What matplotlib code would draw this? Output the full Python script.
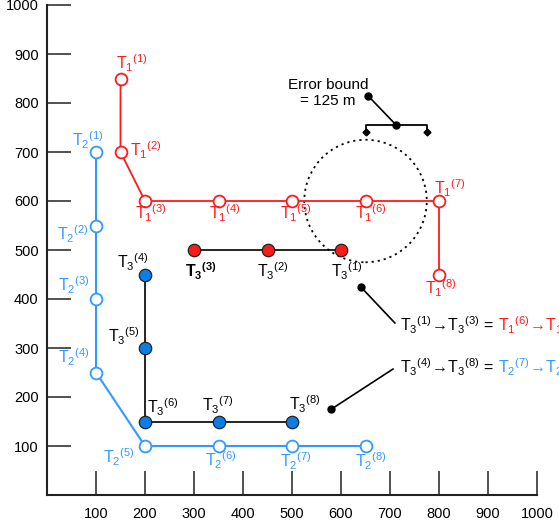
import matplotlib
matplotlib.use("Agg")
import matplotlib.pyplot as plt
from matplotlib.patches import Circle

plt.rcParams['font.family'] = ['Liberation Sans', 'DejaVu Sans']
plt.rcParams['mathtext.fontset'] = 'custom'
plt.rcParams['mathtext.rm'] = 'Liberation Sans'
plt.rcParams['mathtext.it'] = 'Liberation Sans:italic'
plt.rcParams['mathtext.bf'] = 'Liberation Sans:bold'

# Trajectory points
t1_x = [150, 150, 200, 350, 500, 650, 800, 800]
t1_y = [850, 700, 600, 600, 600, 600, 600, 450]
t2_x = [100, 100, 100, 100, 200, 350, 500, 650]
t2_y = [700, 550, 400, 250, 100, 100, 100, 100]
t3_x = [600, 450, 300, 200, 200, 200, 350, 500]
t3_y = [500, 500, 500, 450, 300, 150, 150, 150]

ticks = [100, 200, 300, 400, 500, 600, 700, 800, 900, 1000]

# error bound circle
err_center = (650, 600)
err_radius = 125

RED = '#ff1a1a'
BLUE = '#3399ff'
BLUE_FILL = '#0a7de6'

# label offsets (pixels) for each point
t1_off = [(11, 15), (25, 2), (6, -12), (6, -12), (3.5, -12), (5.5, -12), (11, 13), (2, -14)]
t2_off = [(-8.5, 11.5), (-23, -9), (-22, 14), (-22, 15), (-26, -11), (2, -14.5), (3.5, -15), (5.5, -15)]
t3_off = [(6, -21), (5.5, -21), (6.5, -21), (-12.5, 12), (-21.5, 12), (17.5, 14), (-0.5, 16.5), (12.5, 17.5)]

fig = plt.figure(figsize=(5.59, 5.29), dpi=100)
ax = fig.add_axes([47/559, 34/529, 490/559, 490/529])
ax.set_xlim(0, 1000)
ax.set_ylim(0, 1000)

for s in ['top', 'right']:
    ax.spines[s].set_visible(False)
for s in ['left', 'bottom']:
    ax.spines[s].set_linewidth(1.5)
    ax.spines[s].set_color('#222222')

ax.set_xticks(ticks)
ax.set_yticks(ticks)
ax.tick_params(direction='in', length=17, width=1.1, color='#222222', labelsize=10.5)
ax.tick_params(axis='x', pad=8.5)
ax.tick_params(axis='y', pad=6)

# T1 and T2 lines with open markers
ax.plot(t1_x, t1_y, color=RED, lw=1.3, marker='o', ms=8.5, mfc='white', mec=RED, mew=1.3, zorder=3)
ax.plot(t2_x, t2_y, color=BLUE, lw=1.5, marker='o', ms=8.5, mfc='white', mec=BLUE, mew=1.3, zorder=3)

# T3: two black segments with filled markers
ax.plot(t3_x[:3], t3_y[:3], color='black', lw=1.2, zorder=3)
ax.plot(t3_x[3:], t3_y[3:], color='black', lw=1.2, zorder=3)
ax.scatter(t3_x[:3], t3_y[:3], s=80, c=RED, edgecolors='#222222', linewidths=0.9, zorder=4)
ax.scatter(t3_x[3:], t3_y[3:], s=80, c=BLUE_FILL, edgecolors='#222222', linewidths=0.9, zorder=4)

def label(x, y, txt, off, color):
    ax.annotate(txt, xy=(x, y), xytext=off, textcoords='offset pixels',
                ha='center', va='center', color=color, fontsize=11.5, zorder=5)

for i in range(8):
    label(t1_x[i], t1_y[i], r'$\mathrm{T_1{}^{(%d)}}$' % (i + 1), t1_off[i], RED)
    label(t2_x[i], t2_y[i], r'$\mathrm{T_2{}^{(%d)}}$' % (i + 1), t2_off[i], BLUE)
    if i == 2:
        txt = r'$\mathbf{T_3{}^{(3)}}$'
    else:
        txt = r'$\mathrm{T_3{}^{(%d)}}$' % (i + 1)
    label(t3_x[i], t3_y[i], txt, t3_off[i], 'black')

# error bound circle and bracket
ax.add_patch(Circle(err_center, err_radius, fill=False, ls=(0, (1.2, 2.2)), lw=1.3, color='black', zorder=2))
bx0 = err_center[0]
bx1 = err_center[0] + err_radius
ax.plot([bx0, bx0, bx1, bx1], [740, 755, 755, 740], color='black', lw=1.3)
ax.plot([bx0, bx1], [740, 740], ls='none', marker='D', ms=3.5, color='black')
ax.plot([(bx0 + bx1) / 2, 655], [755, 815], color='black', lw=1.2, marker='o', ms=5)
ax.text(573, 820, 'Error bound\n= 125 m', ha='center', va='center', fontsize=11, linespacing=1.15)

# equivalence callouts
fig.canvas.draw()
renderer = fig.canvas.get_renderer()

def chain(x, y, parts):
    t = ax.text(x, y, parts[0][0], color=parts[0][1], fontsize=11.5, va='baseline', ha='left')
    for s, c, gap in parts[1:]:
        bb = t.get_window_extent(renderer)
        xd = ax.transData.inverted().transform((bb.x1 + gap, 0))[0]
        t = ax.text(xd, y, s, color=c, fontsize=11.5, va='baseline', ha='left')

ax.plot([641, 710], [424, 351], color='black', lw=1.2)
ax.plot([641], [424], marker='o', ms=5, color='black')
chain(720, 335, [(r'$\mathrm{T_3{}^{(1)}\!\rightarrow\!T_3{}^{(3)}}$ =', 'black'),
                 (r'$\mathrm{T_1{}^{(6)}\!\rightarrow\!T_1{}^{(7)}}$', RED, 5)])

ax.plot([580, 706], [175, 257], color='black', lw=1.2)
ax.plot([580], [175], marker='o', ms=5, color='black')
chain(720, 249, [(r'$\mathrm{T_3{}^{(4)}\!\rightarrow\!T_3{}^{(8)}}$ =', 'black'),
                 (r'$\mathrm{T_2{}^{(7)}\!\rightarrow\!T_2{}^{(8)}}$', BLUE, 5)])

fig.savefig('out.png', dpi=100)
